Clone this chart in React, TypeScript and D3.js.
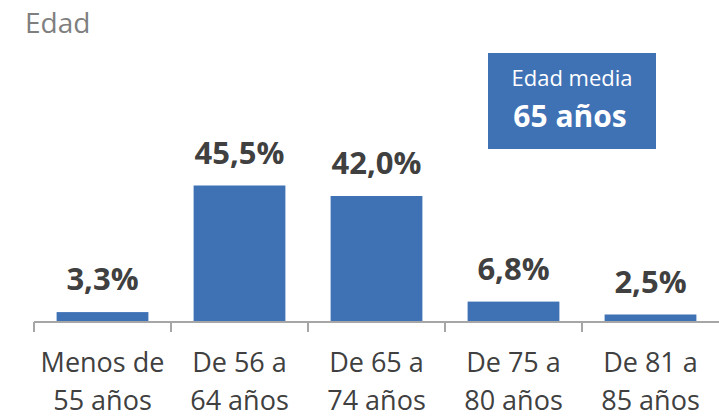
import { useEffect, useRef } from 'react';
import * as d3 from 'd3';

const categories = [
  ['Menos de', '55 años'],
  ['De 56 a', '64 años'],
  ['De 65 a', '74 años'],
  ['De 75 a', '80 años'],
  ['De 81 a', '85 años'],
];
const values = [3.3, 45.5, 42.0, 6.8, 2.5];
const title = 'Edad';
const boxLines = ['Edad media', '65 años'];

const W = 719;
const H = 418;
const BLUE = '#3f71b5';
const TEXT = '#404040';
const FONT = "'Open Sans', sans-serif";

export default function App() {
  const svgRef = useRef<SVGSVGElement>(null);

  useEffect(() => {
    if (!svgRef.current) return;
    const svg = d3.select(svgRef.current);
    svg.selectAll('*').remove();

    const baseY = 322;
    const x = d3.scaleBand<number>()
      .domain(d3.range(values.length))
      .range([34, 719])
      .paddingInner(0.33)
      .paddingOuter(0.165);
    const y = d3.scaleLinear().domain([0, 50]).range([baseY, baseY - 150]);

    // title
    svg.append('text')
      .attr('x', 25)
      .attr('y', 33)
      .attr('fill', '#7f7f7f')
      .attr('font-family', FONT)
      .attr('font-size', 28)
      .text(title);

    // bars
    svg.append('g')
      .selectAll('rect')
      .data(values)
      .join('rect')
      .attr('x', (_, i) => x(i)!)
      .attr('width', x.bandwidth())
      .attr('y', (d) => y(d))
      .attr('height', (d) => baseY - y(d))
      .attr('fill', BLUE);

    // value labels
    svg.append('g')
      .selectAll('text')
      .data(values)
      .join('text')
      .attr('x', (_, i) => x(i)! + x.bandwidth() / 2)
      .attr('y', (d) => y(d) - 22)
      .attr('text-anchor', 'middle')
      .attr('fill', TEXT)
      .attr('font-family', FONT)
      .attr('font-weight', 700)
      .attr('font-size', 31)
      .text((d) => d.toFixed(1).replace('.', ',') + '%');

    // axis line + ticks
    const step = x.step();
    const axis = svg.append('g').attr('stroke', '#a6a6a6').attr('stroke-width', 2);
    axis.append('line').attr('x1', 34).attr('x2', 719).attr('y1', baseY).attr('y2', baseY);
    d3.range(values.length).forEach((i) => {
      const tx = x(i)! - (step - x.bandwidth()) / 2;
      axis.append('line').attr('x1', tx).attr('x2', tx).attr('y1', baseY).attr('y2', baseY + 10);
    });

    // category labels
    const cats = svg.append('g')
      .selectAll('text')
      .data(categories)
      .join('text')
      .attr('text-anchor', 'middle')
      .attr('fill', TEXT)
      .attr('font-family', FONT)
      .attr('font-size', 27);
    cats.each(function (d, i) {
      const cx = x(i)! + x.bandwidth() / 2;
      d3.select(this)
        .selectAll('tspan')
        .data(d)
        .join('tspan')
        .attr('x', cx)
        .attr('y', (_, j) => 372 + j * 38)
        .text((s) => s);
    });

    // mean box
    const box = svg.append('g');
    box.append('rect')
      .attr('x', 488).attr('y', 53).attr('width', 168).attr('height', 96)
      .attr('fill', BLUE);
    box.append('text')
      .attr('x', 572).attr('y', 86)
      .attr('text-anchor', 'middle')
      .attr('fill', '#fff')
      .attr('font-family', FONT)
      .attr('font-size', 22)
      .text(boxLines[0]);
    box.append('text')
      .attr('x', 570).attr('y', 127)
      .attr('text-anchor', 'middle')
      .attr('fill', '#fff')
      .attr('font-family', FONT)
      .attr('font-weight', 700)
      .attr('font-size', 30)
      .text(boxLines[1]);
  }, []);

  return (
    <div style={{ position: 'fixed', left: 0, top: 0, width: W, height: H, background: '#fff' }}>
      <svg ref={svgRef} width={W} height={H} />
    </div>
  );
}
